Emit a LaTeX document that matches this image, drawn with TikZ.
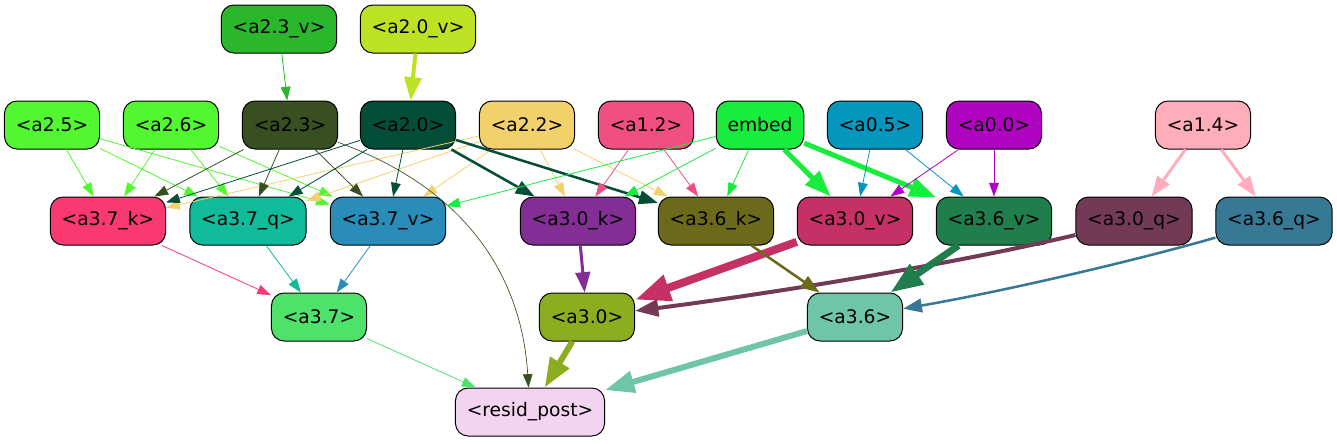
\documentclass[tikz,border=0pt]{standalone}
\usepackage{fontspec}
\setmainfont{DejaVu Sans}
\usetikzlibrary{arrows.meta}

\definecolor{c23v}{HTML}{2AB72B}
\definecolor{c20v}{HTML}{BDE223}
\definecolor{c25}{HTML}{52F731}
\definecolor{c23}{HTML}{374F21}
\definecolor{c20}{HTML}{034D39}
\definecolor{c22}{HTML}{F2D16B}
\definecolor{c12}{HTML}{F04F82}
\definecolor{cemb}{HTML}{18EC3C}
\definecolor{c05}{HTML}{0596BE}
\definecolor{c00}{HTML}{B003C2}
\definecolor{c14}{HTML}{FFADBA}
\definecolor{c37k}{HTML}{F93A72}
\definecolor{c37q}{HTML}{10BB9B}
\definecolor{c37v}{HTML}{2A8CB8}
\definecolor{c30k}{HTML}{832E94}
\definecolor{c36k}{HTML}{6B6A1B}
\definecolor{c30v}{HTML}{C53165}
\definecolor{c36v}{HTML}{1F7E4B}
\definecolor{c30q}{HTML}{733A56}
\definecolor{c36q}{HTML}{377895}
\definecolor{c37}{HTML}{4FE26B}
\definecolor{c30}{HTML}{8DAD20}
\definecolor{c36}{HTML}{6FC5A8}
\definecolor{crp}{HTML}{F2D4F0}

\begin{document}
\begin{tikzpicture}[x=0.75pt, y=-0.75pt,
    box/.style={rectangle, rounded corners=9.5pt, draw, line width=0.75pt, minimum height=36pt, inner xsep=8.5pt, font=\fontsize{14}{16}\selectfont},
    wire/.style={-{Triangle[length=8.5pt 3, width=6pt 2.2]}, line width=0.6pt}]
    \useasboundingbox (0,0) rectangle (1337,443);
    \node (a23v) [box, fill=c23v] at (279, 29) {<a2.3\_v>};
    \node (a20v) [box, fill=c20v] at (418, 29) {<a2.0\_v>};
    \node (a25) [box, fill=c25] at (52, 125) {<a2.5>};
    \node (a26) [box, fill=c25] at (171, 125) {<a2.6>};
    \node (a23) [box, fill=c23] at (290, 125) {<a2.3>};
    \node (a20) [box, fill=c20] at (408, 125) {<a2.0>};
    \node (a22) [box, fill=c22] at (527, 125) {<a2.2>};
    \node (a12) [box, fill=c12] at (646, 125) {<a1.2>};
    \node (embed) [box, fill=cemb] at (760, 125) {embed};
    \node (a05) [box, fill=c05] at (875, 125) {<a0.5>};
    \node (a00) [box, fill=c00] at (994, 125) {<a0.0>};
    \node (a14) [box, fill=c14] at (1203, 125) {<a1.4>};
    \node (a37k) [box, fill=c37k] at (108, 221) {<a3.7\_k>};
    \node (a37q) [box, fill=c37q] at (248, 221) {<a3.7\_q>};
    \node (a37v) [box, fill=c37v] at (388, 221) {<a3.7\_v>};
    \node (a30k) [box, fill=c30k] at (578, 221) {<a3.0\_k>};
    \node (a36k) [box, fill=c36k] at (716, 221) {<a3.6\_k>};
    \node (a30v) [box, fill=c30v] at (855, 221) {<a3.0\_v>};
    \node (a36v) [box, fill=c36v] at (994, 221) {<a3.6\_v>};
    \node (a30q) [box, fill=c30q] at (1134, 221) {<a3.0\_q>};
    \node (a36q) [box, fill=c36q] at (1274, 221) {<a3.6\_q>};
    \node (a37) [box, fill=c37] at (319, 317) {<a3.7>};
    \node (a30) [box, fill=c30] at (587, 317) {<a3.0>};
    \node (a36) [box, fill=c36] at (855, 317) {<a3.6>};
    \node (rp) [box, fill=crp] at (530, 412) {<resid\_post>};
    \draw [wire, c23v] (a23v) -- (a23);
    \draw [wire, c20v, line width=3pt] (a20v) -- (a20);
    \draw [wire, c25] (a25) -- (a37k);
    \draw [wire, c25] (a25) -- (a37q);
    \draw [wire, c25] (a25) -- (a37v);
    \draw [wire, c25] (a26) -- (a37k);
    \draw [wire, c25] (a26) -- (a37q);
    \draw [wire, c25] (a26) -- (a37v);
    \draw [wire, c22] (a22) -- (a37k);
    \draw [wire, c22] (a22) -- (a37q);
    \draw [wire, c22] (a22) -- (a37v);
    \draw [wire, c22] (a22) -- (a30k);
    \draw [wire, c22] (a22) -- (a36k);
    \draw [wire, c23] (a23) -- (a37k);
    \draw [wire, c23] (a23) -- (a37q);
    \draw [wire, c23] (a23) -- (a37v);
    \draw [wire, c23, line width=0.5pt] (a23) .. controls (470, 190) and (522, 280) .. (rp);
    \draw [wire, c20] (a20) -- (a37k);
    \draw [wire, c20] (a20) -- (a37q);
    \draw [wire, c20] (a20) -- (a37v);
    \draw [wire, c20, line width=1.9pt] (a20) -- (a30k);
    \draw [wire, c20, line width=1.9pt] (a20) -- (a36k);
    \draw [wire, c12] (a12) -- (a30k);
    \draw [wire, c12] (a12) -- (a36k);
    \draw [wire, cemb] (embed) -- (a37v);
    \draw [wire, cemb] (embed) -- (a30k);
    \draw [wire, cemb] (embed) -- (a36k);
    \draw [wire, cemb, line width=3.75pt] (embed) -- (a30v);
    \draw [wire, cemb, line width=3.75pt] (embed) -- (a36v);
    \draw [wire, c05] (a05) -- (a30v);
    \draw [wire, c05] (a05) -- (a36v);
    \draw [wire, c00] (a00) -- (a30v);
    \draw [wire, c00] (a00) -- (a36v);
    \draw [wire, c14, line width=2.25pt] (a14) -- (a30q);
    \draw [wire, c14, line width=2.25pt] (a14) -- (a36q);
    \draw [wire, c37k] (a37k) -- (a37);
    \draw [wire, c37q] (a37q) -- (a37);
    \draw [wire, c37v] (a37v) -- (a37);
    \draw [wire, c30k, line width=2.25pt] (a30k) -- (a30);
    \draw [wire, c30v, line width=6pt] (a30v) -- (a30);
    \draw [wire, c30q, line width=3pt] (a30q) .. controls (950, 265) and (760, 295) .. (a30);
    \draw [wire, c36k, line width=1.9pt] (a36k) -- (a36);
    \draw [wire, c36v, line width=5.25pt] (a36v) -- (a36);
    \draw [wire, c36q, line width=1.9pt] (a36q) .. controls (1130, 262) and (1000, 292) .. (a36);
    \draw [wire, c37] (a37) -- (rp);
    \draw [wire, c30, line width=4.5pt] (a30) -- (rp);
    \draw [wire, c36, line width=4.5pt] (a36) -- (rp);
\end{tikzpicture}
\end{document}
